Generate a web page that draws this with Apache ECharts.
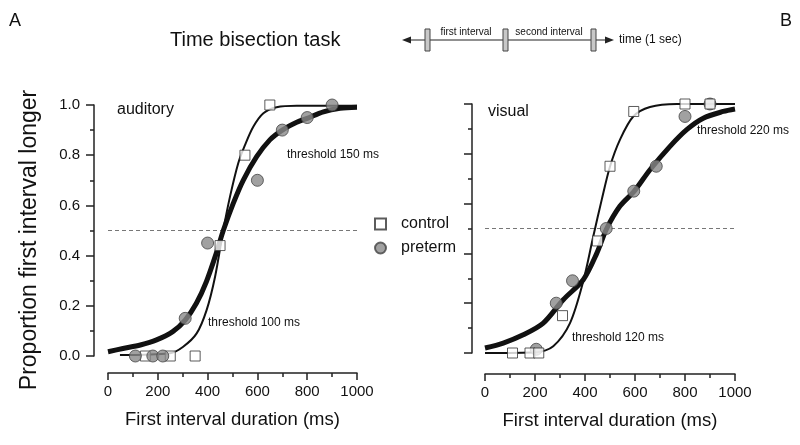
<!DOCTYPE html>
<html>
<head>
<meta charset="utf-8">
<script src="https://cdn.jsdelivr.net/npm/echarts@6/dist/echarts.min.js"></script>
<style>
html,body{margin:0;padding:0;background:#fff;}
#chart{width:800px;height:445px;}
</style>
</head>
<body>
<div id="chart"></div>
<script>
// ---------- data ----------
const xTickValues = [0, 200, 400, 600, 800, 1000];
const yTickValues = [0.0, 0.2, 0.4, 0.6, 0.8, 1.0];

// auditory panel (A)
const audControlX = [150, 250, 350, 450, 550, 650];
const audControlY = [0.0, 0.0, 0.0, 0.44, 0.80, 1.0];
const audPretermX = [110, 180, 220, 310, 400, 600, 700, 800, 900];
const audPretermY = [0.0, 0.0, 0.0, 0.15, 0.45, 0.70, 0.90, 0.95, 1.0];
const audPretermFitX = [0, 60, 130, 195, 260, 310, 355, 395, 435, 463, 503, 543, 597, 650, 700, 758, 800, 865, 932, 1000];
const audPretermFitY = [0.017, 0.03, 0.044, 0.064, 0.097, 0.143, 0.21, 0.296, 0.41, 0.5, 0.608, 0.70, 0.794, 0.861, 0.90, 0.931, 0.947, 0.973, 0.987, 0.991];
const audControlFitX = [48, 249, 302, 356, 396, 430, 463, 490, 523, 550, 584, 624, 677, 758, 1000];
const audControlFitY = [0.004, 0.011, 0.037, 0.09, 0.183, 0.316, 0.502, 0.635, 0.768, 0.84, 0.914, 0.967, 0.991, 0.997, 0.997];

// visual panel (B)
const visControlX = [110, 180, 215, 310, 450, 500, 595, 800, 900];
const visControlY = [0.0, 0.0, 0.0, 0.15, 0.45, 0.75, 0.97, 1.0, 1.0];
const visPretermX = [205, 285, 350, 485, 595, 685, 800, 900];
const visPretermY = [0.015, 0.20, 0.29, 0.50, 0.65, 0.75, 0.95, 1.0];
const visPretermFitX = [0, 73, 153, 233, 313, 393, 447, 487, 540, 597, 660, 740, 807, 873, 953, 1000];
const visPretermFitY = [0.02, 0.04, 0.073, 0.12, 0.214, 0.294, 0.40, 0.50, 0.59, 0.65, 0.736, 0.83, 0.897, 0.943, 0.97, 0.98];
const visControlFitX = [0, 207, 273, 340, 393, 433, 467, 500, 540, 593, 660, 767, 1000];
const visControlFitY = [0.0, 0.003, 0.027, 0.12, 0.288, 0.468, 0.616, 0.749, 0.857, 0.95, 0.988, 1.0, 1.0];

const chanceX = [0, 1000];
const chanceY = [0.5, 0.5];

// ---------- helpers ----------
const zip = (xs, ys) => xs.map((x, i) => [x, ys[i]]);
const FONT = "'Liberation Sans', Arial, sans-serif";
const AX = '#222';

function xAxisDef(gridIndex, offset, withName) {
  return {
    gridIndex, type: 'value', min: 0, max: 1000, interval: 200, offset,
    axisLine: { show: true, onZero: false, lineStyle: { color: AX, width: 1.5 } },
    axisTick: { show: true, inside: false, length: 7, lineStyle: { color: AX, width: 1.5 } },
    minorTick: { show: true, splitNumber: 2, length: 4, lineStyle: { color: AX, width: 1.5 } },
    splitLine: { show: false },
    axisLabel: { show: true, margin: 11, fontSize: 15, color: '#111', fontFamily: FONT,
      formatter: v => String(v) },
    name: withName ? 'First interval duration (ms)' : '',
    nameLocation: 'middle', nameGap: 37,
    nameTextStyle: { fontSize: 18.5, color: '#111', fontFamily: FONT }
  };
}
function yAxisDef(gridIndex, offset, showLabels) {
  return {
    gridIndex, type: 'value', min: 0, max: 1, interval: 0.2, offset,
    axisLine: { show: true, onZero: false, lineStyle: { color: AX, width: 1.5 } },
    axisTick: { show: true, inside: false, length: 8, lineStyle: { color: AX, width: 1.5 } },
    minorTick: { show: true, splitNumber: 2, length: 4, lineStyle: { color: AX, width: 1.5 } },
    splitLine: { show: false },
    axisLabel: { show: showLabels, margin: 14, fontSize: 15, color: '#111', fontFamily: FONT,
      formatter: v => v.toFixed(1) }
  };
}
function fitLine(name, xs, ys, xi, yi, width) {
  return { type: 'line', name, xAxisIndex: xi, yAxisIndex: yi, data: zip(xs, ys),
    smooth: 0.3, showSymbol: false, symbol: 'none', silent: true, z: 3,
    lineStyle: { color: '#111', width } };
}
function chance(xi, yi) {
  return { type: 'line', name: 'chance', xAxisIndex: xi, yAxisIndex: yi, data: zip(chanceX, chanceY),
    showSymbol: false, symbol: 'none', silent: true, z: 2,
    lineStyle: { color: '#777', width: 1, type: [4, 3] } };
}
function ctrl(xs, ys, xi, yi, z) {
  return { type: 'scatter', name: 'control', xAxisIndex: xi, yAxisIndex: yi, data: zip(xs, ys),
    symbol: 'rect', symbolSize: 10, z,
    itemStyle: { color: '#fff', borderColor: '#333', borderWidth: 1 } };
}
function pret(xs, ys, xi, yi, z) {
  return { type: 'scatter', name: 'preterm', xAxisIndex: xi, yAxisIndex: yi, data: zip(xs, ys),
    symbol: 'circle', symbolSize: 12, z,
    itemStyle: { color: '#8a8a8a', borderColor: '#444', borderWidth: 1 } };
}
function txt(x, y, text, size, extra, rot) {
  const el = { type: 'text', x, y, style: Object.assign({ text, fontSize: size, fontFamily: FONT, fill: '#111',
    textVerticalAlign: 'middle' }, extra || {}) };
  if (rot) el.rotation = rot;
  return el;
}

const chart = echarts.init(document.getElementById('chart'), null, { renderer: 'canvas' });
const option = {
  backgroundColor: '#fff',
  animation: false,
  grid: [
    { left: 108, top: 105, width: 249, height: 251 },
    { left: 485, top: 104, width: 250, height: 249 }
  ],
  xAxis: [xAxisDef(0, 17, true), xAxisDef(1, 21, true)],
  yAxis: [yAxisDef(0, 14, true), yAxisDef(1, 13, false)],
  legend: {
    orient: 'vertical', left: 369, top: 211, itemWidth: 11, itemHeight: 11, itemGap: 8,
    data: [{ name: 'control', icon: 'rect' }, { name: 'preterm', icon: 'circle' }],
    textStyle: { fontSize: 16, color: '#111', fontFamily: FONT, padding: [0, 0, 0, 10] }
  },
  series: [
    chance(0, 0),
    fitLine('aud preterm fit', audPretermFitX, audPretermFitY, 0, 0, 5),
    fitLine('aud control fit', audControlFitX, audControlFitY, 0, 0, 2),
    ctrl(audControlX, audControlY, 0, 0, 4),
    pret(audPretermX, audPretermY, 0, 0, 5),
    chance(1, 1),
    fitLine('vis preterm fit', visPretermFitX, visPretermFitY, 1, 1, 5),
    fitLine('vis control fit', visControlFitX, visControlFitY, 1, 1, 2),
    pret(visPretermX, visPretermY, 1, 1, 4),
    ctrl(visControlX, visControlY, 1, 1, 5)
  ],
  graphic: [
    txt(9, 21, 'A', 18),
    txt(780, 21, 'B', 18),
    txt(170, 40, 'Time bisection task', 20),
    txt(30, 240, 'Proportion first interval longer', 23, { textAlign: 'center' }, Math.PI / 2),
    txt(117, 110, 'auditory', 16),
    txt(287, 155, 'threshold 150 ms', 12),
    txt(208, 323, 'threshold 100 ms', 12),
    txt(488, 112, 'visual', 16),
    txt(697, 131, 'threshold 220 ms', 12),
    txt(572, 338, 'threshold 120 ms', 12),
    // timeline diagram
    { type: 'line', shape: { x1: 408, y1: 40, x2: 608, y2: 40 }, style: { stroke: '#222', lineWidth: 1.2 } },
    { type: 'polygon', shape: { points: [[402, 40], [411, 36.5], [411, 43.5]] }, style: { fill: '#222' } },
    { type: 'polygon', shape: { points: [[614, 40], [605, 36.5], [605, 43.5]] }, style: { fill: '#222' } },
    { type: 'rect', shape: { x: 425, y: 29, width: 5, height: 22 }, style: { fill: '#c8c8c8', stroke: '#444', lineWidth: 1 } },
    { type: 'rect', shape: { x: 503, y: 29, width: 5, height: 22 }, style: { fill: '#c8c8c8', stroke: '#444', lineWidth: 1 } },
    { type: 'rect', shape: { x: 591, y: 29, width: 5, height: 22 }, style: { fill: '#c8c8c8', stroke: '#444', lineWidth: 1 } },
    txt(466, 32, 'first interval', 10, { textAlign: 'center' }),
    txt(549, 32, 'second interval', 10, { textAlign: 'center' }),
    txt(619, 40, 'time (1 sec)', 12)
  ]
};
chart.setOption(option);
</script>
</body>
</html>
